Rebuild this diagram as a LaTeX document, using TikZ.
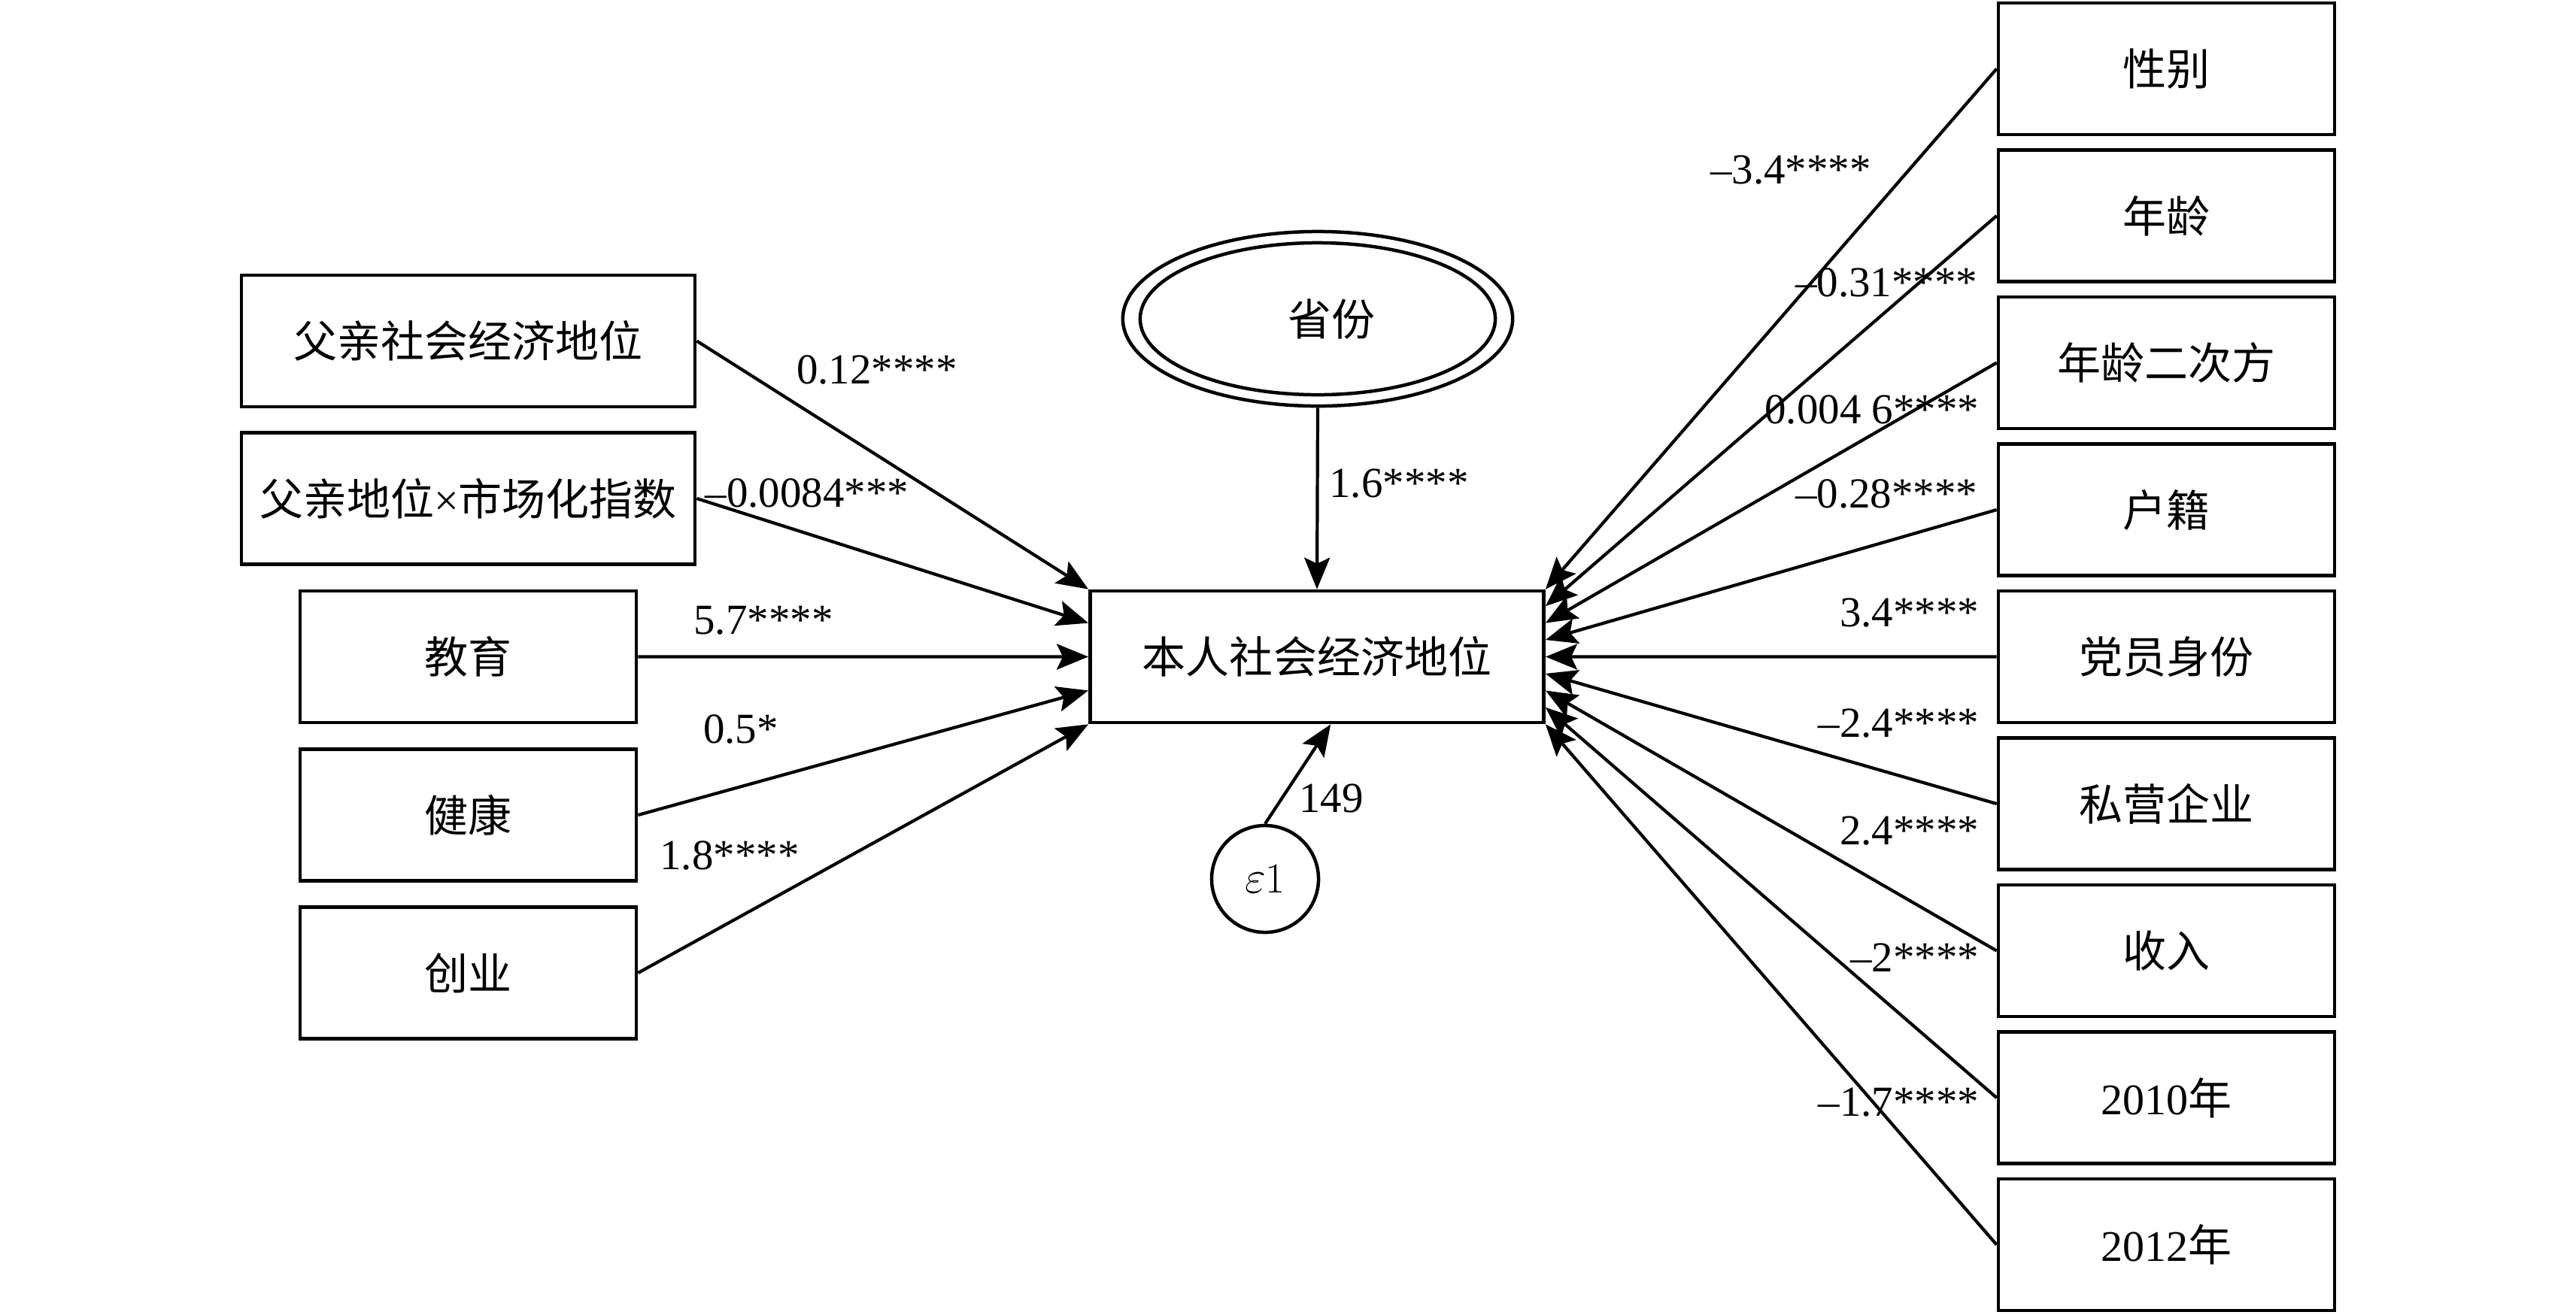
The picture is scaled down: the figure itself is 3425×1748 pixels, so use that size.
\documentclass[tikz,border=0pt]{standalone}
\usepackage{fontspec}
\newfontfamily\cjk{Noto Sans CJK SC}
\newfontfamily\tnr{Liberation Serif}
\usetikzlibrary{arrows.meta,shapes.geometric,calc}
\begin{document}
\begin{tikzpicture}[x=0.01cm,y=-0.01cm,
  box/.style={draw, line width=0.045cm, minimum height=1.75cm, inner sep=0pt, font=\cjk\fontsize{16.5}{18}\selectfont},
  wbox/.style={box, minimum width=6.03cm},
  nbox/.style={box, minimum width=4.47cm},
  conn/.style={line width=0.042cm, -{Stealth[length=0.42cm,width=0.34cm,inset=0.08cm]}},
  coef/.style={font=\tnr\fontsize{16.2}{18}\selectfont, inner sep=0pt},
]
\fill[white] (0,0) rectangle (3425,1748);
\useasboundingbox (0,0) rectangle (3425,1748);

% left boxes
\node[wbox] (fses) at (622.5,453.5) {父亲社会经济地位};
\node[wbox] (fint) at (622.5,663) {父亲地位{\tnr ×}市场化指数};
\node[nbox] (edu) at (622.5,873.5) {教育};
\node[nbox] (hea) at (622.5,1084) {健康};
\node[nbox] (ent) at (622.5,1294) {创业};

% main
\node[wbox] (main) at (1751,873.5) {本人社会经济地位};

% province
\node[ellipse, draw, line width=0.045cm, minimum width=5.18cm, minimum height=2.32cm, inner sep=0pt,
      font=\cjk\fontsize{16.5}{18}\selectfont] (prov) at (1752,424) {\hspace*{0.36cm}省份};
\draw[line width=0.045cm] (prov.center) ellipse [x radius=2.36cm, y radius=1.01cm];

% error
\node[circle, draw, line width=0.045cm, minimum size=1.42cm, inner sep=0pt,
      font=\fontsize{16.2}{18}\selectfont] (eps) at (1682,1169) {$\varepsilon$1};

% right boxes
\node[nbox] (r1) at (2880.5,91.5) {性别};
\node[nbox] (r2) at (2880.5,287) {年龄};
\node[nbox] (r3) at (2880.5,482.5) {年龄二次方};
\node[nbox] (r4) at (2880.5,678) {户籍};
\node[nbox] (r5) at (2880.5,873.5) {党员身份};
\node[nbox] (r6) at (2880.5,1069) {私营企业};
\node[nbox] (r7) at (2880.5,1264.5) {收入};
\node[nbox] (r8) at (2880.5,1460) {{\tnr 2010}年};
\node[nbox] (r9) at (2880.5,1655.5) {{\tnr 2012}年};

% left connectors
\draw[conn] (fses.east) -- (main.north west);
\draw[conn] (fint.east) -- ($(main.north west)!0.25!(main.south west)$);
\draw[conn] (edu.east) -- ($(main.north west)!0.5!(main.south west)$);
\draw[conn] (hea.east) -- ($(main.north west)!0.75!(main.south west)$);
\draw[conn] (ent.east) -- (main.south west);

% right connectors
\foreach \i in {1,...,9}{
  \pgfmathsetmacro{\f}{(\i-1)/8}
  \draw[conn] (r\i.west) -- ($(main.north east)!\f!(main.south east)$);
}

% top and bottom
\draw[conn] (prov.south) -- (main.north);
\coordinate (epsend) at ($(main.south west)!0.53!(main.south east)$);
\draw[conn] (eps.north) -- (epsend);

% coefficient labels
\node[coef] (l1) at (1166,492) {0.12****};
\node[coef] (l2) at (1073,656) {–0.0084***};
\node[coef] (l3) at (1015,825) {5.7****};
\node[coef] (l4) at (985,970) {0.5*};
\node[coef] (l5) at (970,1138) {1.8****};
\node[coef] (lp) at (1860,643) {1.6****};
\node[coef] (le) at (1770,1062) {149};

\node[coef] (m1) at (2381,226) {–3.4****};
\node[coef, anchor=east] (m2) at (2630,376) {–0.31****};
\node[coef, anchor=east] (m3) at (2632,545) {0.004 6****};
\node[coef, anchor=east] (m4) at (2630,657) {–0.28****};
\node[coef, anchor=east] (m5) at (2632,815) {3.4****};
\node[coef, anchor=east] (m6) at (2632,962) {–2.4****};
\node[coef, anchor=east] (m7) at (2632,1105) {2.4****};
\node[coef, anchor=east] (m8) at (2632,1274) {–2****};
\node[coef, anchor=east] (m9) at (2632,1466) {–1.7****};
\end{tikzpicture}
\end{document}
